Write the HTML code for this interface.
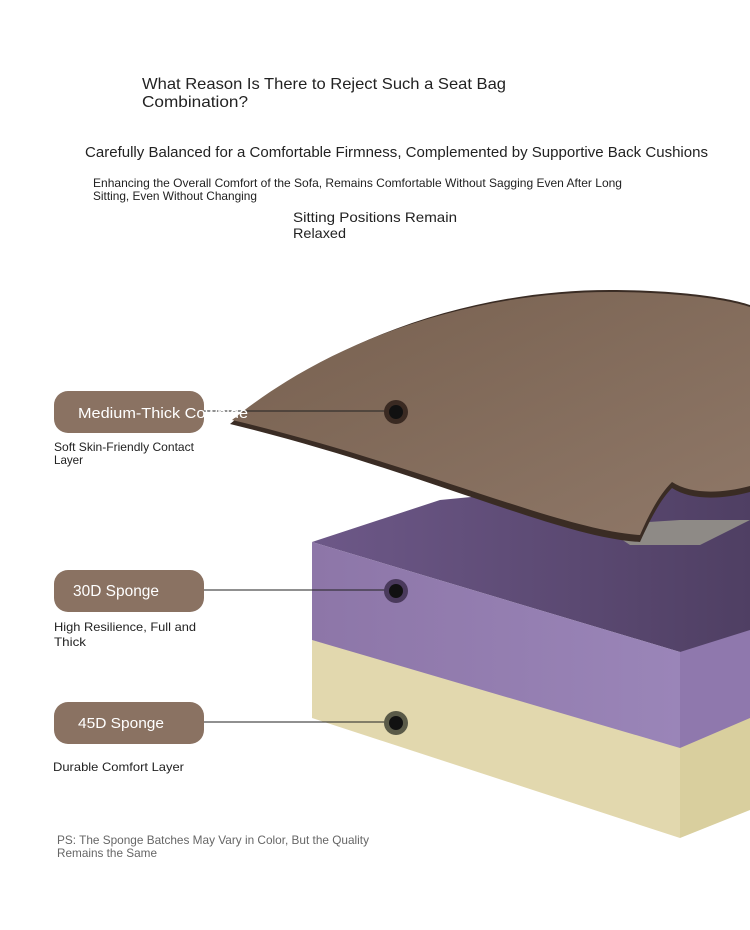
<!DOCTYPE html>
<html><head><meta charset="utf-8"><style>
html,body{margin:0;padding:0;background:#fff;width:750px;height:930px;overflow:hidden}
svg{display:block}
text{font-family:"Liberation Sans",sans-serif}
</style></head><body>
<svg width="750" height="930" viewBox="0 0 750 930" xmlns="http://www.w3.org/2000/svg">
<defs>
<linearGradient id="pf" x1="0" y1="0" x2="1" y2="0"><stop offset="0" stop-color="#8d76a8"/><stop offset="1" stop-color="#9a85b8"/></linearGradient>
<linearGradient id="pt" x1="0" y1="0" x2="1" y2="0"><stop offset="0" stop-color="#6d5888"/><stop offset="1" stop-color="#4f3f63"/></linearGradient>
<linearGradient id="lt" x1="0" y1="0" x2="1" y2="1"><stop offset="0" stop-color="#77604f"/><stop offset="1" stop-color="#8f7868"/></linearGradient>
</defs>
<text x="142" y="89" font-size="16" fill="#222" textLength="364" lengthAdjust="spacingAndGlyphs">What Reason Is There to Reject Such a Seat Bag</text>
<text x="142" y="107" font-size="16" fill="#222" textLength="106" lengthAdjust="spacingAndGlyphs">Combination?</text>
<text x="85" y="157" font-size="15" fill="#222" textLength="623" lengthAdjust="spacingAndGlyphs">Carefully Balanced for a Comfortable Firmness, Complemented by Supportive Back Cushions</text>
<text x="93" y="187" font-size="12" fill="#222" textLength="529" lengthAdjust="spacingAndGlyphs">Enhancing the Overall Comfort of the Sofa, Remains Comfortable Without Sagging Even After Long</text>
<text x="93" y="200" font-size="12" fill="#222" textLength="164" lengthAdjust="spacingAndGlyphs">Sitting, Even Without Changing</text>
<text x="293" y="222" font-size="14" fill="#222" textLength="164" lengthAdjust="spacingAndGlyphs">Sitting Positions Remain</text>
<text x="293" y="238" font-size="14" fill="#222" textLength="53" lengthAdjust="spacingAndGlyphs">Relaxed</text>

<!-- cream block -->
<polygon points="312,718 680,838 680,740 312,640" fill="#e2d8ae"/>
<polygon points="312,640 680,740 750,712 750,690 360,630" fill="#efe8c8"/>
<polygon points="680,740 750,712 750,810 680,838" fill="#d9cf9e"/>
<!-- purple block -->
<polygon points="312,542 440,500 750,470 750,700 680,652" fill="url(#pt)"/>
<polygon points="312,542 680,652 680,748 312,640" fill="url(#pf)"/>
<polygon points="680,652 750,630 750,718 680,748" fill="#8f78ad"/>
<polygon points="600,525 680,520 750,520 700,545 630,545" fill="#8e8a86"/>
<!-- leather -->
<path d="M230,424 C330,340 470,290 610,290 C680,290 730,298 750,305 L750,492 C720,500 690,500 672,488 C660,500 650,520 640,542 C560,538 420,470 230,424 Z" fill="#3a2c24"/>
<path d="M232,420 C330,340 470,292 610,292 C680,292 730,300 750,307 L750,486 C720,494 690,494 672,482 C660,494 650,512 640,535 C560,530 420,465 232,420 Z" fill="url(#lt)"/>

<!-- connectors -->
<line x1="204" y1="411" x2="396" y2="411" stroke="#222" stroke-width="1"/>
<line x1="204" y1="590" x2="396" y2="590" stroke="#222" stroke-width="1"/>
<line x1="204" y1="722" x2="396" y2="722" stroke="#222" stroke-width="1"/>
<circle cx="396" cy="412" r="12" fill="#3a2a22"/><circle cx="396" cy="412" r="7" fill="#111"/>
<circle cx="396" cy="591" r="12" fill="#4a3a5c"/><circle cx="396" cy="591" r="7" fill="#111"/>
<circle cx="396" cy="723" r="12" fill="#5a5a48"/><circle cx="396" cy="723" r="7" fill="#111"/>

<!-- pills -->
<rect x="54" y="391" width="150" height="42" rx="14" fill="#8a7262"/>
<rect x="54" y="570" width="150" height="42" rx="14" fill="#8a7262"/>
<rect x="54" y="702" width="150" height="42" rx="14" fill="#8a7262"/>
<text x="78" y="418" font-size="15" fill="#fff" textLength="170" lengthAdjust="spacingAndGlyphs">Medium-Thick Cowhide</text>
<text x="73" y="596" font-size="16" fill="#fff" textLength="86" lengthAdjust="spacingAndGlyphs">30D Sponge</text>
<text x="78" y="728" font-size="15" fill="#fff" textLength="86" lengthAdjust="spacingAndGlyphs">45D Sponge</text>

<text x="54" y="451" font-size="12" fill="#222" textLength="140" lengthAdjust="spacingAndGlyphs">Soft Skin-Friendly Contact</text>
<text x="54" y="464" font-size="12" fill="#222" textLength="29" lengthAdjust="spacingAndGlyphs">Layer</text>
<text x="54" y="631" font-size="12" fill="#222" textLength="142" lengthAdjust="spacingAndGlyphs">High Resilience, Full and</text>
<text x="54" y="646" font-size="12" fill="#222" textLength="32" lengthAdjust="spacingAndGlyphs">Thick</text>
<text x="53" y="771" font-size="12" fill="#222" textLength="131" lengthAdjust="spacingAndGlyphs">Durable Comfort Layer</text>
<text x="57" y="844" font-size="12" fill="#666" textLength="312" lengthAdjust="spacingAndGlyphs">PS: The Sponge Batches May Vary in Color, But the Quality</text>
<text x="57" y="857" font-size="12" fill="#666" textLength="100" lengthAdjust="spacingAndGlyphs">Remains the Same</text>
</svg>
</body></html>
